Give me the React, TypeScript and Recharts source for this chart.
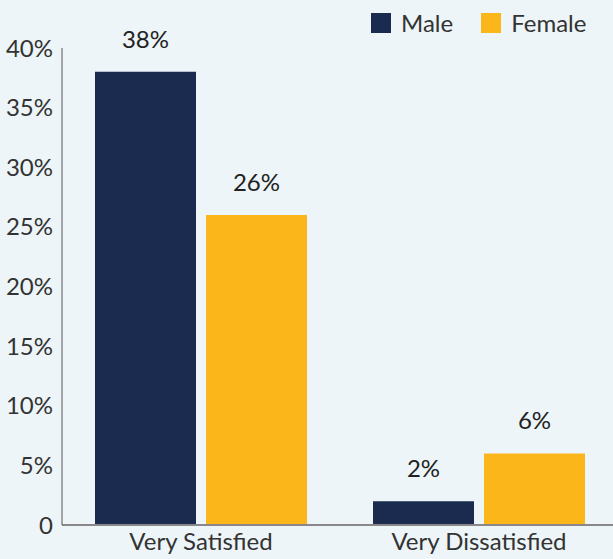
import { BarChart, Bar, XAxis, YAxis, LabelList } from 'recharts';

const categories = ['Very Satisfied', 'Very Dissatisfied'];
const maleValues = [38, 2];
const femaleValues = [26, 6];
const yTicks = [0, 5, 10, 15, 20, 25, 30, 35, 40];

const MALE = '#1a2b4f';
const FEMALE = '#fbb719';
const FONT = 'Lato, "Noto Sans", sans-serif';
const FS = 24;

const data = categories.map((name, i) => ({
  name,
  male: maleValues[i],
  female: femaleValues[i],
}));

function formatPct(value: number): string {
  return value === 0 ? '0' : value + '%';
}

function LegendBox() {
  const items = [
    { label: 'Male', color: MALE },
    { label: 'Female', color: FEMALE },
  ];
  return (
    <div style={{ position: 'absolute', top: 12, left: 371, display: 'flex', gap: 28, fontFamily: FONT, fontSize: FS, color: '#333' }}>
      {items.map((it) => (
        <div key={it.label} style={{ display: 'flex', alignItems: 'center', gap: 10, lineHeight: '22px' }}>
          <span style={{ width: 20, height: 20, background: it.color, display: 'inline-block' }} />
          <span>{it.label}</span>
        </div>
      ))}
    </div>
  );
}

export default function App() {
  return (
    <div
      style={{
        position: 'fixed',
        left: 0,
        top: 0,
        width: 613,
        height: 559,
        background: '#edf5f8',
        overflow: 'hidden',
        fontFamily: FONT,
      }}
    >
      <BarChart
        width={618}
        height={559}
        data={data}
        margin={{ top: 48, right: 0, bottom: 0, left: 0 }}
        barGap={10}
        barSize={101}
      >
        <XAxis
          dataKey="name"
          height={34}
          tickLine={false}
          axisLine={{ stroke: '#888', strokeWidth: 2 }}
          tick={{ fill: '#333', fontSize: FS, fontFamily: FONT }}
          tickMargin={2}
        />
        <YAxis
          width={62}
          domain={[0, 40]}
          ticks={yTicks}
          interval={0}
          tickLine={false}
          axisLine={{ stroke: '#555', strokeWidth: 1 }}
          tickFormatter={formatPct}
          tick={{ fill: '#333', fontSize: FS, fontFamily: FONT }}
          tickMargin={3}
        />
        <Bar dataKey="male" fill={MALE} isAnimationActive={false}>
          <LabelList
            dataKey="male"
            position="top"
            offset={24}
            formatter={(v: number) => v + '%'}
            style={{ fill: '#222', fontSize: FS, fontFamily: FONT }}
          />
        </Bar>
        <Bar dataKey="female" fill={FEMALE} isAnimationActive={false}>
          <LabelList
            dataKey="female"
            position="top"
            offset={24}
            formatter={(v: number) => v + '%'}
            style={{ fill: '#222', fontSize: FS, fontFamily: FONT }}
          />
        </Bar>
      </BarChart>
      <LegendBox />
    </div>
  );
}
